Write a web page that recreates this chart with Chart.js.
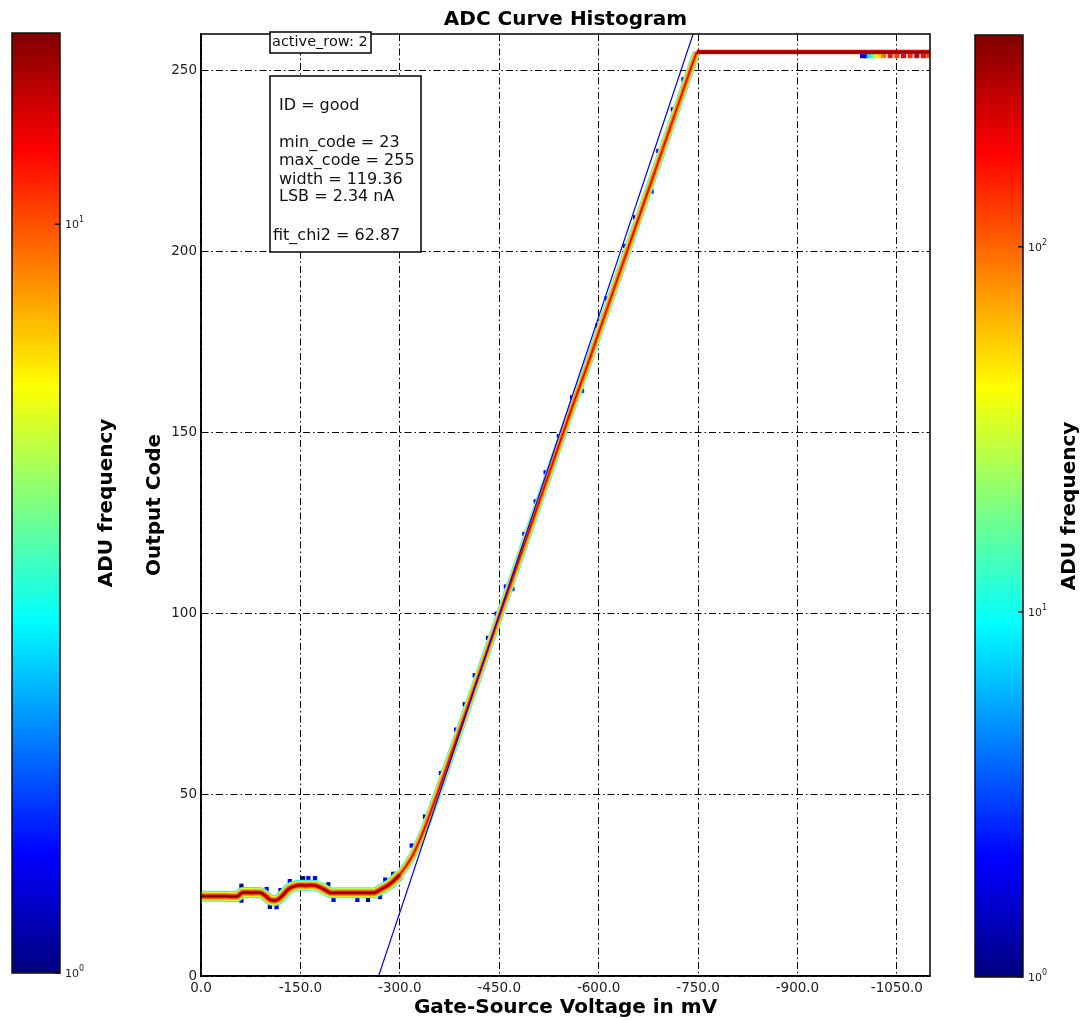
<!DOCTYPE html>
<html>
<head>
<meta charset="utf-8">
<title>ADC Curve Histogram</title>
<script src="https://cdn.jsdelivr.net/npm/chart.js@4.4.0/dist/chart.umd.min.js"></script>
<style>
  body { margin: 0; background: #fff; }
  canvas { display: block; }
</style>
</head>
<body>
<canvas id="myChart" width="1083" height="1020"></canvas>
<script>
// ticks
const xTicks = [0, -150, -300, -450, -600, -750, -900, -1050];
const yTicks = [0, 50, 100, 150, 200, 250];

// mean ADC curve (gate-source voltage in mV -> output code), up to saturation
const curveV = [0, -20, -40, -55, -62, -75, -90, -98, -105, -115, -122, -132, -145, -158, -172, -185, -195, -210, -230, -250, -262,
  -272, -282, -292, -300, -310, -320, -330, -340, -350, -360, -380, -400, -420, -440, -460, -480, -500, -520, -540, -560,
  -580, -600, -620, -640, -660, -680, -700, -720, -740, -748];
const curveCode = [22, 22, 22, 22, 23, 23, 23, 22, 21, 21, 22, 24, 25, 25, 25, 24, 23, 23, 23, 23, 23,
  24, 25, 26.5, 28, 30.5, 33.5, 37.5, 42, 47, 52, 62.5, 73, 83.5, 94, 104.5, 115, 125.5, 136, 146.5, 157,
  167, 177.5, 188, 198.5, 209, 219.5, 230, 240.5, 251, 255];

// saturated part
const plateauV = [-748, -1100];
const plateauCode = [255, 255];

// linear fit
const fitV = [-268, -742.5];
const fitCode = [0, 260];

// sparse bins along the edges of the curve (low counts)
const sparseV = [-61, -61, -99, -104, -114, -120, -134, -154, -162, -172, -192, -200, -236, -252, -270, -278, -290,
  -318, -338, -362, -385, -398, -413, -433, -446, -460, -470, -488, -505, -520, -540, -560, -575, -598, -612,
  -640, -655, -680, -690, -712, -728];
const sparseCode = [24.9, 20.8, 24, 19.1, 19, 23.7, 26.2, 27, 27, 27, 25.3, 21, 21, 21, 21.8, 26.6, 28.2,
  36, 44, 56, 68, 75, 83, 93.3, 100, 107.5, 106.8, 122, 131, 139, 149, 159.7, 161.5, 179.5, 187,
  201.5, 209.4, 216.5, 227.7, 239.2, 247.5];
const sparseFreq = [1, 2, 2, 1, 2, 1, 2, 1, 2, 2, 1, 2, 2, 1, 2, 2, 1,
  2, 1, 2, 2, 1, 2, 1, 2, 2, 3, 1, 2, 2, 1, 2, 3, 1, 2,
  2, 1, 3, 2, 1, 2];

// bins just under the saturation line at the far end
const tailV = [-998, -1003, -1008, -1013, -1018, -1023, -1030, -1040, -1050, -1060, -1070, -1080, -1090, -1098];
const tailCode = [254, 254, 254, 254, 254, 254, 254, 254, 254, 254, 254, 254, 254, 254];
const tailFreq = [2, 2, 8, 14, 30, 50, 90, 160, 120, 200, 140, 250, 180, 120];

// colorbars
const leftBarTicks = [1, 10];
const leftBarMax = 18;
const rightBarTicks = [1, 10, 100];
const rightBarMax = 380;

const infoLines = ['ID = good', '', 'min_code = 23', 'max_code = 255', 'width = 119.36', 'LSB = 2.34 nA', '', 'fit_chi2 = 62.87'];

const FONT = "'DejaVu Sans', sans-serif";
Chart.defaults.font.family = FONT;

function clamp(v) { return Math.max(0, Math.min(1, v)); }
function jet(t) {
    const r = clamp(1.5 - Math.abs(4 * t - 3));
    const g = clamp(1.5 - Math.abs(4 * t - 2));
    const b = clamp(1.5 - Math.abs(4 * t - 1));
    return 'rgb(' + Math.round(r * 255) + ',' + Math.round(g * 255) + ',' + Math.round(b * 255) + ')';
}
function freqColor(f) { return jet(Math.log10(f) / Math.log10(rightBarMax)); }
function pts(xs, ys) { return xs.map((x, i) => ({ x: x, y: ys[i] })); }

// the flat part is wider (spread in code), the slope part narrower
const split = curveV.indexOf(-300);
const flatPts = pts(curveV.slice(0, split + 1), curveCode.slice(0, split + 1));
const slopePts = pts(curveV.slice(split), curveCode.slice(split));

// band drawn as stacked strokes, outside -> inside
const flatBand = [
    { c: '#30f0e0', w: 11 },
    { c: '#d0ff30', w: 9 },
    { c: '#ffb000', w: 7 },
    { c: '#ff4a00', w: 5 },
    { c: '#e00000', w: 3 },
    { c: '#800000', w: 1.5 }
];
const slopeBand = [
    { c: '#30e8ff', w: 8 },
    { c: '#d8ff30', w: 6.5 },
    { c: '#ffb000', w: 5 },
    { c: '#ff5a00', w: 3 },
    { c: '#d00000', w: 1.2 }
];
const plateauBand = [
    { c: '#e00000', w: 4.5 },
    { c: '#7a0000', w: 2 }
];

const datasets = [];
datasets.push({
    data: pts(fitV, fitCode), showLine: true, borderColor: '#0000ff', borderWidth: 1.2,
    pointRadius: 0, order: 0
});
flatBand.forEach((b, i) => {
    datasets.push({
        data: flatPts, showLine: true, borderColor: b.c, borderWidth: b.w,
        pointRadius: 0, tension: 0.25, order: 20 - i
    });
});
slopeBand.forEach((b, i) => {
    datasets.push({
        data: slopePts, showLine: true, borderColor: b.c, borderWidth: b.w,
        pointRadius: 0, tension: 0.25, order: 20 - i
    });
});
plateauBand.forEach((b, i) => {
    datasets.push({
        data: pts(plateauV, plateauCode), showLine: true, borderColor: b.c, borderWidth: b.w,
        pointRadius: 0, order: 10 - i
    });
});
datasets.push({
    data: pts(tailV, tailCode), pointStyle: 'rect', pointRadius: 3.5, borderWidth: 0,
    backgroundColor: tailFreq.map(freqColor), order: 30
});
datasets.push({
    data: pts(sparseV, sparseCode), pointStyle: 'rect', pointRadius: 3, borderWidth: 0,
    backgroundColor: sparseFreq.map(freqColor), order: 31
});

function drawBar(ctx, x, y, w, h, ticks, max, labelX) {
    const grad = ctx.createLinearGradient(0, y + h, 0, y);
    for (let i = 0; i <= 40; i++) grad.addColorStop(i / 40, jet(i / 40));
    ctx.fillStyle = grad;
    ctx.fillRect(x, y, w, h);
    ctx.strokeStyle = '#111';
    ctx.lineWidth = 1.5;
    ctx.strokeRect(x, y, w, h);
    ticks.forEach(t => {
        const ty = y + h - Math.log10(t) / Math.log10(max) * h;
        ctx.beginPath();
        ctx.moveTo(x + w - 5, ty);
        ctx.lineTo(x + w, ty);
        ctx.stroke();
        ctx.fillStyle = '#222';
        ctx.textAlign = 'left';
        ctx.textBaseline = 'middle';
        ctx.font = '11px ' + FONT;
        ctx.fillText('10', x + w + 5, ty + 1);
        const tw = ctx.measureText('10').width;
        ctx.font = '8px ' + FONT;
        ctx.fillText(String(Math.round(Math.log10(t))), x + w + 5 + tw, ty - 4);
    });
    ctx.save();
    ctx.translate(labelX, y + h / 2);
    ctx.rotate(-Math.PI / 2);
    ctx.fillStyle = '#000';
    ctx.font = 'bold 20px ' + FONT;
    ctx.textAlign = 'center';
    ctx.textBaseline = 'middle';
    ctx.fillText('ADU frequency', 0, 0);
    ctx.restore();
}

const extras = {
    id: 'extras',
    afterDraw(chart) {
        const ctx = chart.ctx;
        const a = chart.chartArea;
        ctx.save();
        ctx.setLineDash([]);
        ctx.strokeStyle = '#000';
        ctx.lineWidth = 1.5;
        ctx.strokeRect(a.left, a.top, a.right - a.left, a.bottom - a.top);

        // active row label
        ctx.fillStyle = '#fff';
        ctx.fillRect(a.left + 69, a.top - 2, 101, 21);
        ctx.strokeRect(a.left + 69, a.top - 2, 101, 21);
        ctx.fillStyle = '#111';
        ctx.font = '14.5px ' + FONT;
        ctx.textAlign = 'left';
        ctx.textBaseline = 'middle';
        ctx.fillText('active_row: 2', a.left + 71, a.top + 8.5);

        // info box
        ctx.fillStyle = '#fff';
        ctx.fillRect(a.left + 69, a.top + 42, 151, 176);
        ctx.strokeRect(a.left + 69, a.top + 42, 151, 176);
        ctx.fillStyle = '#111';
        ctx.font = '16px ' + FONT;
        const lineY = [72, 0, 109, 127, 146, 163, 0, 202];
        infoLines.forEach((s, i) => {
            if (!s) return;
            const lx = s.indexOf('fit') === 0 ? a.left + 72 : a.left + 78;
            ctx.fillText(s, lx, a.top + lineY[i]);
        });

        drawBar(ctx, 12, 33, 48, 940, leftBarTicks, leftBarMax, 107);
        drawBar(ctx, 975, 35, 48, 942, rightBarTicks, rightBarMax, 1070);
        ctx.restore();
    }
};

const gridDash = [7, 3, 1.5, 3];

new Chart(document.getElementById('myChart').getContext('2d'), {
    type: 'scatter',
    data: { datasets: datasets },
    plugins: [extras],
    options: {
        responsive: false,
        animation: false,
        events: [],
        layout: { padding: { left: 141, right: 153, top: 0, bottom: 0 } },
        plugins: {
            legend: { display: false },
            tooltip: { enabled: false },
            title: {
                display: true,
                text: 'ADC Curve Histogram',
                fullSize: false,
                color: '#000',
                font: { size: 20, weight: 'bold' },
                padding: { top: 8, bottom: 2 }
            }
        },
        scales: {
            x: {
                type: 'linear',
                min: -1100,
                max: 0,
                reverse: true,
                afterFit: s => { s.height = 44; },
                afterBuildTicks: s => { s.ticks = xTicks.map(v => ({ value: v })); },
                ticks: {
                    autoSkip: false, maxRotation: 0, padding: 4, color: '#222',
                    font: { size: 13.5 },
                    callback: v => Number(v).toFixed(1)
                },
                grid: { color: '#000', lineWidth: 1, drawTicks: false },
                border: { display: true, color: '#000', width: 1.5, dash: gridDash },
                title: {
                    display: true, text: 'Gate-Source Voltage in mV', color: '#000',
                    font: { size: 20, weight: 'bold' }, padding: { top: 0, bottom: 0 }
                }
            },
            y: {
                type: 'linear',
                min: 0,
                max: 260,
                afterFit: s => { s.width = 60; },
                afterBuildTicks: s => { s.ticks = yTicks.map(v => ({ value: v })); },
                ticks: {
                    padding: 4, color: '#222', font: { size: 13.5 },
                    callback: v => String(v)
                },
                grid: { color: '#000', lineWidth: 1, drawTicks: false },
                border: { display: true, color: '#000', width: 1.5, dash: gridDash },
                title: {
                    display: true, text: 'Output Code', color: '#000',
                    font: { size: 20, weight: 'bold' }, padding: { top: 2, bottom: 0 }
                }
            }
        }
    }
});
</script>
</body>
</html>
